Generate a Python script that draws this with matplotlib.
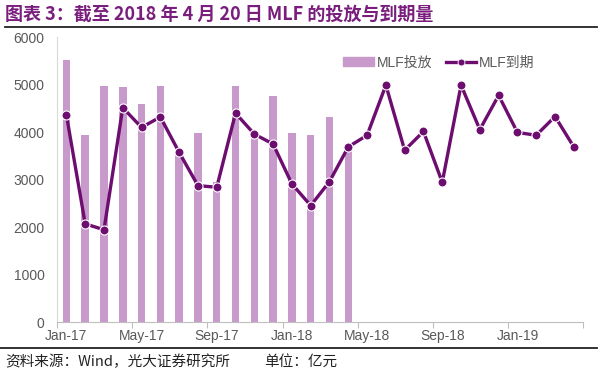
import numpy as np
import matplotlib
matplotlib.use('Agg')
import matplotlib.pyplot as plt
from matplotlib.lines import Line2D

plt.rcParams['font.family'] = ['Liberation Sans', 'Noto Sans CJK SC', 'DejaVu Sans']

# monthly, Jan-17 .. Apr-19
months = ['Jan-17', 'Feb-17', 'Mar-17', 'Apr-17', 'May-17', 'Jun-17', 'Jul-17', 'Aug-17',
          'Sep-17', 'Oct-17', 'Nov-17', 'Dec-17', 'Jan-18', 'Feb-18', 'Mar-18', 'Apr-18',
          'May-18', 'Jun-18', 'Jul-18', 'Aug-18', 'Sep-18', 'Oct-18', 'Nov-18', 'Dec-18',
          'Jan-19', 'Feb-19', 'Mar-19', 'Apr-19']
# MLF投放 (Jan-17 .. Apr-18)
mlf_issue = [5510, 3935, 4975, 4955, 4590, 4980, 3590, 3990,
             2960, 4980, 3980, 4760, 3980, 3935, 4330, 3675]
# MLF到期
mlf_due = [4365, 2070, 1945, 4515, 4100, 4320, 3575, 2875,
           2840, 4400, 3960, 3750, 2910, 2455, 2960, 3690,
           3935, 4990, 3620, 4015, 2945, 4990, 4055, 4775,
           3995, 3935, 4330, 3690]

bar_color = '#C89ACB'
line_color = '#6E0D70'
title_color = '#7A1E7E'
text_gray = '#595959'

fig = plt.figure(figsize=(6, 3.72), dpi=100)
ax = fig.add_axes([0.095, 0.134, 0.877, 0.766])

x = np.arange(len(months))
ax.bar(x[:len(mlf_issue)], mlf_issue, width=0.4, color=bar_color, zorder=1)
ax.plot(x, mlf_due, color=line_color, lw=2.4, marker='o', markersize=6.5,
        markerfacecolor=line_color, markeredgecolor='white', markeredgewidth=0.8, zorder=3)

ax.set_xlim(-0.5, len(months) - 0.5)
ax.set_ylim(0, 6000)
ax.set_yticks(range(0, 6001, 1000))
ax.set_xticks(x[::4])
ax.set_xticklabels(months[::4])
ax.set_xticks(np.arange(-0.5, len(months), 4), minor=True)
ax.tick_params(axis='x', which='major', length=0, pad=5, labelsize=10, labelcolor=text_gray)
ax.tick_params(axis='x', which='minor', length=4, color='#BFBFBF', width=0.8)
ax.tick_params(axis='y', length=0, pad=9, labelsize=10, labelcolor=text_gray)

for s in ['top', 'right']:
    ax.spines[s].set_visible(False)
ax.spines['left'].set_color('#D9D9D9')
ax.spines['bottom'].set_color('#BFBFBF')

handles = [plt.Rectangle((0, 0), 1, 1, color=bar_color),
           Line2D([], [], color=line_color, lw=2.4, marker='o', markersize=5,
                  markerfacecolor=line_color, markeredgecolor='white', markeredgewidth=0.6)]
ax.legend(handles, ['MLF投放', 'MLF到期'], loc='upper left', bbox_to_anchor=(0.52, 0.98),
          ncol=2, frameon=False, fontsize=10, labelcolor=text_gray,
          handlelength=2.2, handleheight=0.6, columnspacing=1.0, handletextpad=0.2)

# title and footer
fig.text(0.008, 0.962, '图表 3：截至 2018 年 4 月 20 日 MLF 的投放与到期量',
         fontsize=13, fontweight='bold', color=title_color, va='center',
         family=['Noto Sans CJK SC', 'DejaVu Sans'])
fig.add_artist(Line2D([0.008, 0.995], [0.928, 0.928], color='#222222', lw=1.3))
fig.add_artist(Line2D([0.0, 0.995], [0.065, 0.065], color='#222222', lw=1.3))
fig.text(0.008, 0.028, '资料来源：Wind，光大证券研究所', fontsize=10.5, color='#222222',
         va='center', family=['Noto Sans CJK SC', 'DejaVu Sans'])
fig.text(0.44, 0.028, '单位：亿元', fontsize=10.5, color='#222222',
         va='center', family=['Noto Sans CJK SC', 'DejaVu Sans'])

fig.savefig('out.png', dpi=100)
